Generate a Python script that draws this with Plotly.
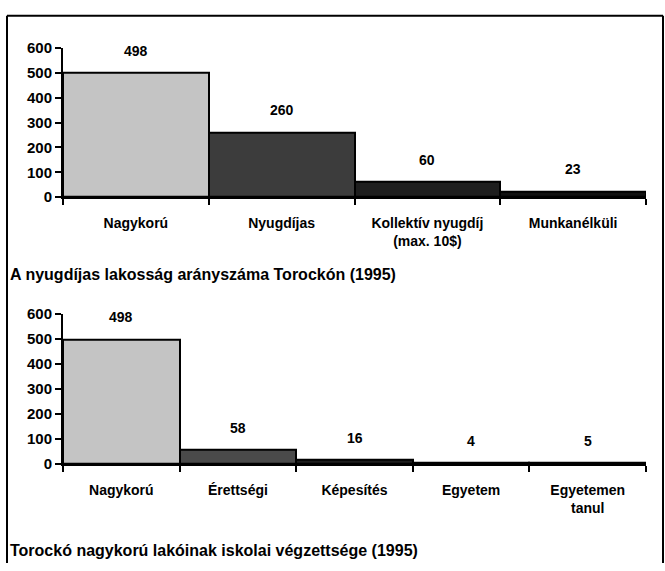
import plotly.graph_objects as go

# Top chart data
cats1 = ["Nagykorú", "Nyugdíjas", "Kollektív nyugdíj<br>(max. 10$)", "Munkanélküli"]
vals1 = [498, 260, 60, 23]
cols1 = ["#c4c4c4", "#3c3c3c", "#1e1e1e", "#111111"]
title1 = "A nyugdíjas lakosság arányszáma Torockón (1995)"

# Bottom chart data
cats2 = ["Nagykorú", "Érettségi", "Képesítés", "Egyetem", "Egyetemen<br>tanul"]
vals2 = [498, 58, 16, 4, 5]
cols2 = ["#c4c4c4", "#4a4a4a", "#1e1e1e", "#111111", "#111111"]
title2 = "Torockó nagykorú lakóinak iskolai végzettsége (1995)"

yticks = [0, 100, 200, 300, 400, 500, 600]

FONT = "Liberation Sans, Arial"
W, H = 665, 571

fig = go.Figure()
fig.add_trace(go.Bar(x=cats1, y=vals1, marker=dict(color=cols1, line=dict(color="black", width=2)),
                     xaxis="x", yaxis="y", showlegend=False, hoverinfo="skip"))
fig.add_trace(go.Bar(x=cats2, y=vals2, marker=dict(color=cols2, line=dict(color="black", width=2)),
                     xaxis="x2", yaxis="y2", showlegend=False, hoverinfo="skip"))

annotations = []
for c, v in zip(cats1, vals1):
    annotations.append(dict(x=c, y=v, xref="x", yref="y", text=f"<b>{v}</b>", showarrow=False,
                            yshift=22, font=dict(size=14, family=FONT, color="black")))
for c, v in zip(cats2, vals2):
    annotations.append(dict(x=c, y=v, xref="x2", yref="y2", text=f"<b>{v}</b>", showarrow=False,
                            yshift=22, font=dict(size=14, family=FONT, color="black")))
annotations.append(dict(x=8 / W, y=1 - 274 / H, xref="paper", yref="paper", xanchor="left", yanchor="middle",
                        text=f"<b>{title1}</b>", showarrow=False, font=dict(size=16, family=FONT, color="black")))
annotations.append(dict(x=8 / W, y=1 - 558 / H, xref="paper", yref="paper", xanchor="left", yanchor="middle",
                        text=f"<b>{title2}</b>", showarrow=False, font=dict(size=16, family=FONT, color="black")))

xd = [63 / W, 646 / W]
common_x = dict(type="category", tickson="boundaries", ticks="outside", ticklen=6, tickwidth=2,
                tickcolor="black", showline=True, linecolor="black", linewidth=2, showgrid=False,
                ticklabelstandoff=12,
                tickfont=dict(size=14, family=FONT, color="black", weight="bold"), fixedrange=True)
common_y = dict(range=[0, 600], tickvals=yticks, ticks="outside", ticklen=6, tickwidth=2, tickcolor="black",
                showline=True, linecolor="black", linewidth=2, showgrid=False, zeroline=False,
                tickfont=dict(size=15, family=FONT, color="black", weight="bold"), fixedrange=True)

fig.update_layout(
    width=W, height=H, margin=dict(l=0, r=0, t=0, b=0),
    paper_bgcolor="white", plot_bgcolor="white", bargap=0,
    xaxis=dict(domain=xd, anchor="y", **common_x),
    yaxis=dict(domain=[1 - 194 / H, 1 - 40 / H], anchor="x", **common_y),
    xaxis2=dict(domain=xd, anchor="y2", **common_x),
    yaxis2=dict(domain=[1 - 469 / H, 1 - 314 / H], anchor="x2", **common_y),
    annotations=annotations,
    shapes=[
        dict(type="line", xref="paper", yref="paper", x0=7 / W, x1=7 / W, y0=0, y1=1 - 7 / H,
             line=dict(color="black", width=2)),
        dict(type="line", xref="paper", yref="paper", x0=7 / W, x1=663 / W, y0=1 - 7 / H, y1=1 - 7 / H,
             line=dict(color="black", width=2)),
        dict(type="line", xref="paper", yref="paper", x0=663 / W, x1=663 / W, y0=0, y1=1 - 7 / H,
             line=dict(color="black", width=2)),
    ],
)

post = ("document.documentElement.style.margin='0';document.body.style.margin='0';"
        "document.body.style.overflow='hidden';"
        "var d=document.getElementById('{plot_id}');d.style.position='fixed';d.style.top='0';d.style.left='0';")
fig.write_html("out.html", post_script=post, config={"displayModeBar": False})
